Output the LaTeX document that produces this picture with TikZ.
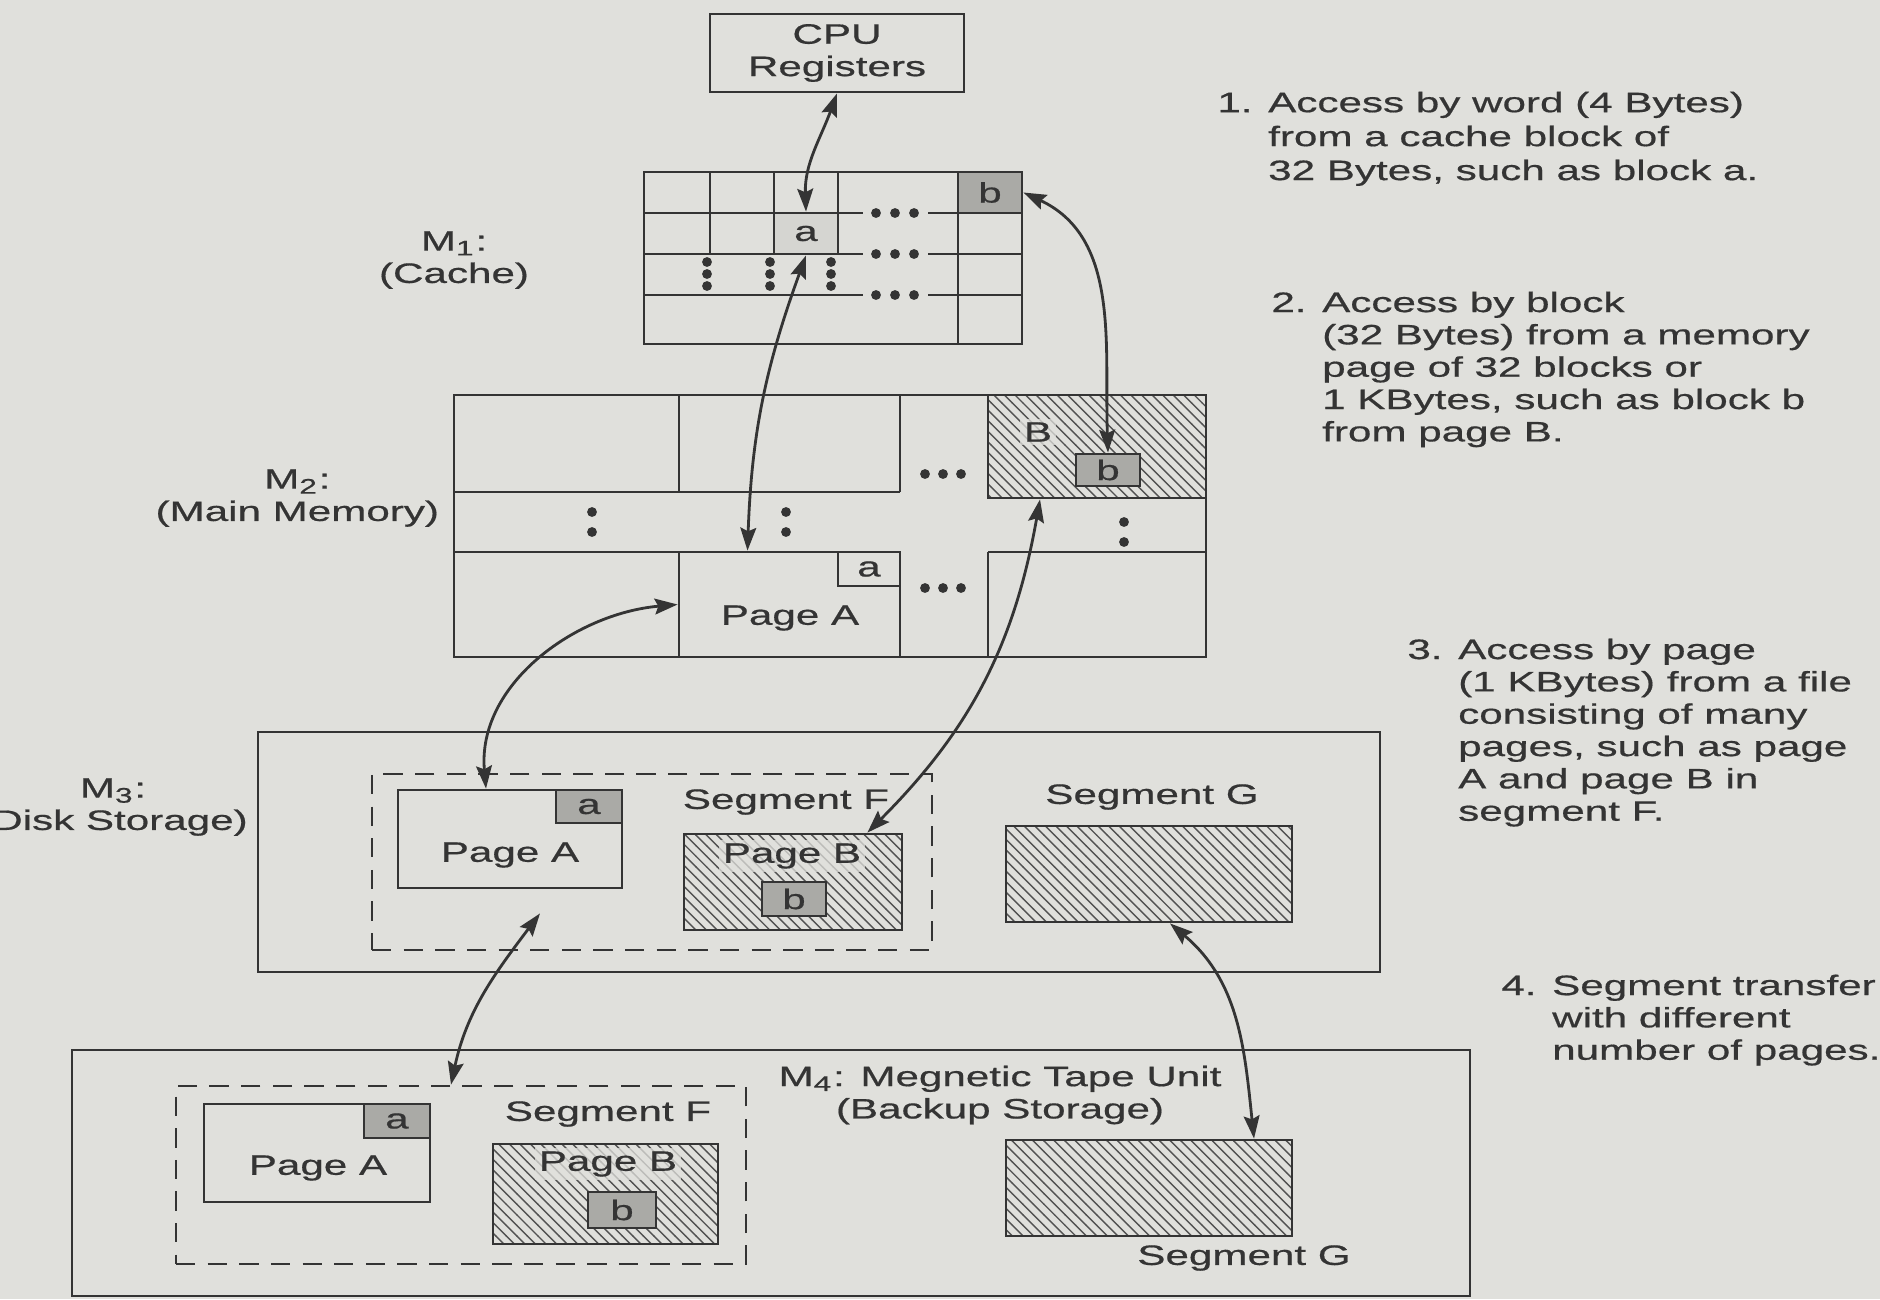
\documentclass[tikz,border=0pt]{standalone}
\usepackage{fontspec}
\setmainfont{Liberation Sans}[FakeStretch=1.5, FakeBold=0.6]
\usepackage{xcolor}
\usepackage{tikz}
\usetikzlibrary{arrows.meta,patterns,positioning}

\definecolor{paper}{RGB}{224,224,220}
\definecolor{ink}{RGB}{52,52,52}
\definecolor{blkgray}{RGB}{170,170,166}

\begin{document}
\begin{tikzpicture}[
		font=\fontsize{8}{9.2}\selectfont,
		color=ink, line width=0.8pt,
		>={Stealth[length=6.5pt,width=4.5pt,inset=1pt]},
		box/.style={rectangle, draw=ink, inner sep=0pt},
		cell/.style={box, fill=blkgray},
		hatch/.style={box, pattern=north west lines, pattern color=ink!85},
		seg/.style={box, dash pattern=on 5.5pt off 3.5pt},
		txt/.style={inner sep=1pt},
		ontxt/.style={inner sep=1pt, fill=paper, fill opacity=0.75, text opacity=1},
		note/.style={anchor=north west, inner sep=0pt},
		arr/.style={<->, line width=0.8pt}
		]
		\useasboundingbox (0,0) rectangle (18.8,-12.99);
		\fill[paper] (0,0) rectangle (18.8,-12.99);

		% CPU and cache (M1)
		\node[box, align=center, minimum width=2.54cm, minimum height=0.78cm] (cpu) at (8.37,-0.53) {CPU\\Registers};
		\node[box, minimum width=3.78cm, minimum height=1.72cm] (cache) at (8.33,-2.58) {};
		\foreach \y in {-2.13,-2.54,-2.95}
		\draw (6.44,\y) -- (8.63,\y) (9.28,\y) -- (10.22,\y);
		\foreach \x in {7.10,7.74,8.38}
		\draw (\x,-1.72) -- (\x,-2.54);
		\draw (9.58,-1.72) -- (9.58,-3.44);
		\foreach \y in {-2.13,-2.54,-2.95}
		\fill (8.76,\y) circle (1.4pt) ++(0.19,0) circle (1.4pt) ++(0.19,0) circle (1.4pt);
		\foreach \x in {7.07,7.70,8.31}
		\fill (\x,-2.62) circle (1.4pt) ++(0,-0.12) circle (1.4pt) ++(0,-0.12) circle (1.4pt);
		\node[cell, fill=paper!80!blkgray, minimum width=0.64cm, minimum height=0.41cm] (ca) at (8.06,-2.335) {a};
		\node[cell, anchor=north east, minimum width=0.64cm, minimum height=0.41cm] (cb) at (cache.north east) {b};
		\node[txt, align=center] (m1lbl) at (4.54,-2.6) {M\textsubscript{1}:\\(Cache)};

		% main memory (M2)
		\node[box, minimum width=7.52cm, minimum height=2.62cm] (mm) at (8.30,-5.26) {};
		\draw (4.54,-4.92) -- (9.0,-4.92) (4.54,-5.52) -- (9.0,-5.52) (9.88,-5.52) -- (12.06,-5.52)
		(6.79,-3.95) -- (6.79,-4.92) (6.79,-5.52) -- (6.79,-6.57)
		(9.0,-3.95) -- (9.0,-4.92) (9.0,-5.52) -- (9.0,-6.57) (9.88,-5.52) -- (9.88,-6.57);
		\node[hatch, anchor=north east, minimum width=2.18cm, minimum height=1.03cm] (m2B) at (mm.north east) {};
		\node[ontxt] (m2BT) at (10.38,-4.32) {B};
		\node[cell, minimum width=0.64cm, minimum height=0.32cm] (m2b) at (11.08,-4.70) {b};
		\node[box, minimum width=2.21cm, minimum height=1.05cm] (m2pa) at (7.895,-6.045) {};
		\node[box, anchor=north east, minimum width=0.62cm, minimum height=0.34cm] (m2a) at (m2pa.north east) {a};
		\node[txt] (m2paT) at (7.9,-6.18) {Page A};
		\foreach \y in {-4.74,-5.88}
		\fill (9.25,\y) circle (1.4pt) ++(0.18,0) circle (1.4pt) ++(0.18,0) circle (1.4pt);
		\foreach \x/\y in {5.92/-5.12, 7.86/-5.12, 11.24/-5.22}
		\fill (\x,\y) circle (1.4pt) ++(0,-0.2) circle (1.4pt);
		\node[txt, align=center, anchor=east] (m2lbl) at (4.44,-4.98) {M\textsubscript{2}:\\(Main Memory)};

		% disk storage (M3)
		\node[box, minimum width=11.22cm, minimum height=2.4cm] (m3) at (8.19,-8.52) {};
		\node[seg, minimum width=5.6cm, minimum height=1.76cm] (m3F) at (6.52,-8.62) {};
		\node[box, minimum width=2.24cm, minimum height=0.98cm] (m3pa) at (5.10,-8.39) {};
		\node[cell, anchor=north east, minimum width=0.66cm, minimum height=0.33cm] (m3a) at (m3pa.north east) {a};
		\node[txt] (m3paT) at (5.1,-8.55) {Page A};
		\node[txt] (m3Flbl) at (7.86,-8.02) {Segment F};
		\node[hatch, minimum width=2.18cm, minimum height=0.96cm] (m3pb) at (7.93,-8.82) {};
		\node[ontxt] (m3pbT) at (7.92,-8.56) {Page B};
		\node[cell, minimum width=0.64cm, minimum height=0.34cm] (m3b) at (7.94,-8.99) {b};
		\node[txt] (m3Glbl) at (11.52,-7.97) {Segment G};
		\node[hatch, minimum width=2.86cm, minimum height=0.96cm] (m3g) at (11.49,-8.74) {};
		\node[txt, align=center] (m3lbl) at (1.13,-8.07) {M\textsubscript{3}:\\(Disk Storage)};

		% tape unit (M4)
		\node[box, minimum width=13.98cm, minimum height=2.46cm] (m4) at (7.71,-11.73) {};
		\node[seg, minimum width=5.7cm, minimum height=1.78cm] (m4F) at (4.61,-11.75) {};
		\node[box, minimum width=2.26cm, minimum height=0.98cm] (m4pa) at (3.17,-11.53) {};
		\node[cell, anchor=north east, minimum width=0.66cm, minimum height=0.34cm] (m4a) at (m4pa.north east) {a};
		\node[txt] (m4paT) at (3.18,-11.68) {Page A};
		\node[txt] (m4Flbl) at (6.08,-11.14) {Segment F};
		\node[hatch, minimum width=2.25cm, minimum height=1.0cm] (m4pb) at (6.055,-11.94) {};
		\node[ontxt] (m4pbT) at (6.08,-11.64) {Page B};
		\node[cell, minimum width=0.68cm, minimum height=0.36cm] (m4b) at (6.22,-12.10) {b};
		\node[txt, align=center] (m4lbl) at (10.0,-10.95) {M\textsubscript{4}: Megnetic Tape Unit\\(Backup Storage)};
		\node[hatch, minimum width=2.86cm, minimum height=0.96cm] (m4g) at (11.49,-11.88) {};
		\node[txt] (m4Glbl) at (12.44,-12.58) {Segment G};

		% transfers
		\coordinate (m3in) at ([shift={(0.3,-0.24)}]m3pa.south);
		\draw[arr] (cpu.south) to[out=-110, in=92] (ca.north);
		\draw[arr] (ca.south) to[out=-110, in=88] ([xshift=-0.42cm]m2pa.north);
		\draw[arr] (cb.east) to[out=-25, in=92] (m2b.north);
		\draw[arr] (m2pa.west) to[out=185, in=95] ([xshift=-0.24cm]m3pa.north);
		\draw[arr] ([xshift=-0.57cm]m2B.south) to[out=-100, in=45] ([xshift=-0.36cm]m3pb.north east);
		\draw[arr] (m3in) to[out=-127, in=78] ([xshift=-0.1cm]m4F.north);
		\draw[arr] ([xshift=0.21cm]m3g.south) to[out=-40, in=96] ([xshift=1.05cm]m4g.north);

		% notes
		\node[note] (n1) at (12.16,-0.87) {\renewcommand\arraystretch{1.05}\begin{tabular}{@{}l@{ }l@{}}1.&Access by word (4 Bytes)\\&from a cache block of\\&32 Bytes, such as block a.\end{tabular}};
		\node[note] (n2) at (12.70,-2.88) {\begin{tabular}{@{}l@{ }l@{}}2.&Access by block\\&(32 Bytes) from a memory\\&page of 32 blocks or\\&1 KBytes, such as block b\\&from page B.\end{tabular}};
		\node[note] (n3) at (14.06,-6.35) {\begin{tabular}{@{}l@{ }l@{}}3.&Access by page\\&(1 KBytes) from a file\\&consisting of many\\&pages, such as page\\&A and page B in\\&segment F.\end{tabular}};
		\node[note] (n4) at (15.0,-9.71) {\begin{tabular}{@{}l@{ }l@{}}4.&Segment transfer\\&with different\\&number of pages.\end{tabular}};
\end{tikzpicture}
\end{document}
